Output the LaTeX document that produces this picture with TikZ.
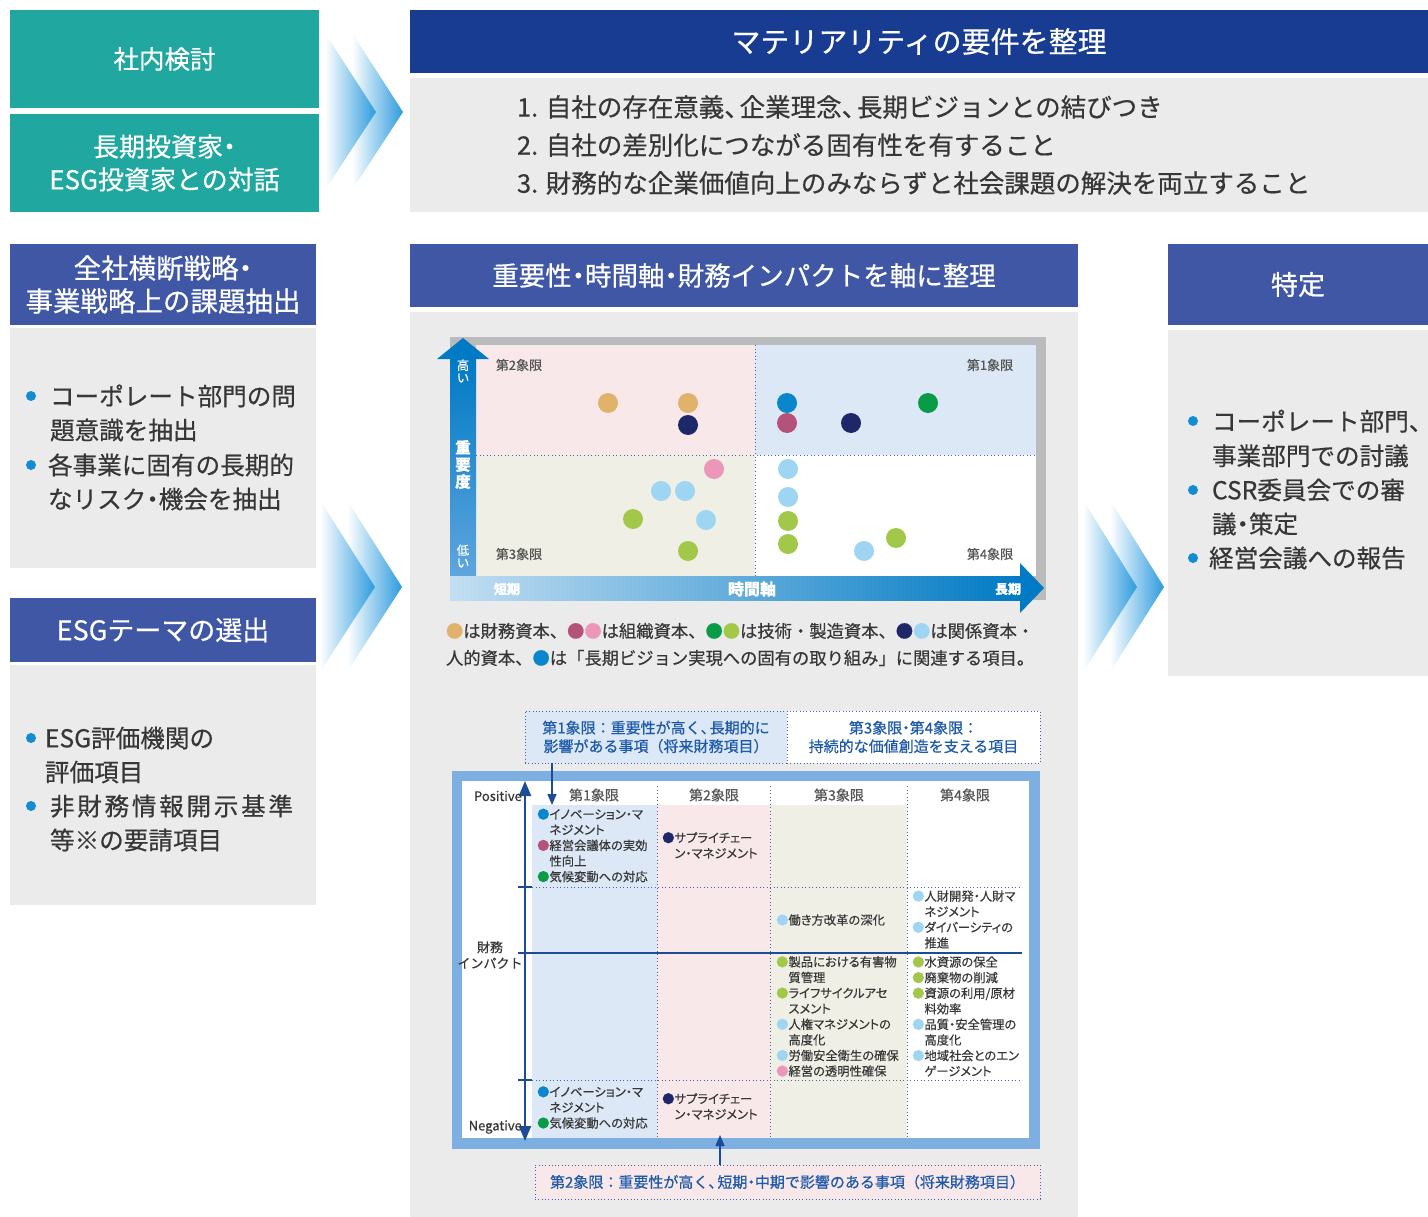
\documentclass[tikz,border=0pt]{standalone}
\usepackage{fontspec}
\setmainfont{Noto Sans CJK JP}[FakeBold=0.5]
\newfontfamily\jpp{Noto Sans CJK JP}[RawFeature=+palt,FakeBold=0.4]
\usetikzlibrary{arrows.meta}
\definecolor{teal1}{RGB}{32,168,160}
\definecolor{navyh}{RGB}{24,60,146}
\definecolor{hblue}{RGB}{63,87,165}
\definecolor{panel}{RGB}{235,235,235}
\definecolor{txt}{RGB}{55,55,55}
\definecolor{bulc}{RGB}{20,140,210}
\definecolor{chevc}{RGB}{45,155,222}
\definecolor{qpink}{RGB}{248,232,234}
\definecolor{qblue}{RGB}{220,232,245}
\definecolor{qbeige}{RGB}{239,239,230}
\definecolor{framegray}{RGB}{185,187,189}
\definecolor{axblue}{RGB}{0,122,196}
\definecolor{axmid}{RGB}{95,165,222}
\definecolor{axpale}{RGB}{195,222,242}
\definecolor{qlabc}{RGB}{85,85,85}
\definecolor{divc}{RGB}{70,100,170}
\definecolor{boxtxt}{RGB}{30,90,170}
\definecolor{tborder}{RGB}{125,175,225}
\definecolor{tax}{RGB}{30,75,150}
\definecolor{dtan}{RGB}{224,178,106}
\definecolor{dnavy}{RGB}{30,40,105}
\definecolor{dblue}{RGB}{10,134,204}
\definecolor{dgreen}{RGB}{10,155,70}
\definecolor{dmag}{RGB}{180,82,122}
\definecolor{dpink}{RGB}{236,150,186}
\definecolor{dlblue}{RGB}{158,213,242}
\definecolor{dlgreen}{RGB}{162,200,74}
\newcommand\fsz[2]{\fontsize{#1}{#2}\selectfont}
\newcommand\mybl[1]{\textcolor{#1}{●}}
\newcommand\myind{\phantom{●}}
\newcommand\ten{、\kern-0.4em}
\newcommand\naka{\kern-0.25em・\kern-0.25em}
\tikzset{
 blk/.style={inner sep=0pt, outer sep=0pt, align=center, text=white},
 pnl/.style={fill=panel, inner sep=0pt, outer sep=0pt},
 tx/.style={anchor=west, inner sep=0pt, outer sep=0pt, align=left, text=txt},
 bulletdot/.style={fill=bulc},
 qlab/.style={inner sep=0pt, text=qlabc, font=\fsz{13}{13}},
 axlab/.style={inner sep=0pt, text=white, align=center},
 qdiv/.style={draw=divc, line width=1pt, dash pattern=on 1pt off 2.6pt},
 tdot/.style={draw=divc, line width=0.9pt, dash pattern=on 0.9pt off 2.6pt},
 dbox/.style={draw=divc, line width=0.9pt, dash pattern=on 0.9pt off 2.4pt, inner sep=0pt, align=center, text=boxtxt, font=\fsz{15}{18.5}},
 item/.style={anchor=west, inner sep=0pt, align=left, text=txt, font=\jpp\fsz{12.3}{15.6}},
 colh/.style={inner sep=0pt, text=qlabc, font=\fsz{14}{14}},
 tarrow/.style={draw=tax, line width=1.5pt, -{Triangle[width=9pt,length=11pt]}},
 chevs/.style={left color=white, right color=chevc},
}
\begin{document}
\begin{tikzpicture}[x=1pt,y=-1pt]
\useasboundingbox (0,0) rectangle (1428,1217);
\fill[white] (0,0) rectangle (1428,1217);

% ---------- left column ----------
\node[blk, fill=teal1, minimum width=309pt, minimum height=98pt, font=\fsz{25.5}{32}] (naibu) at (164.5,59) {社内検討};
\node[blk, fill=teal1, minimum width=309pt, minimum height=98pt, font=\fsz{26}{33}] (taiwa) at (164.5,163) {長期投資家\naka\\ESG投資家との対話};
\node[blk, fill=hblue, minimum width=306pt, minimum height=81pt, font=\fsz{27.5}{33}] (kadai) at (163,284.5) {全社横断戦略\naka\\事業戦略上の課題抽出};
\node[pnl, minimum width=306pt, minimum height=240pt] (p1) at (163,448) {};
\node[blk, fill=hblue, minimum width=306pt, minimum height=64pt, font=\fsz{27}{27}] (esg) at (163,630) {ESGテーマの選出};
\node[pnl, minimum width=306pt, minimum height=240pt] (p2) at (163,785) {};

\fill[bulletdot] (31,396) circle[radius=5pt];
\fill[bulletdot] (31,465) circle[radius=5pt];
\fill[bulletdot] (31,738) circle[radius=5pt];
\fill[bulletdot] (31,806) circle[radius=5pt];
\node[tx, font=\fsz{24.6}{34}] (b1) at (50,413) {コーポレート部門の問\\題意識を抽出};
\node[tx, font=\fsz{24.6}{34}] (b2) at (48,482) {各事業に固有の長期的\\なリスク\naka 機会を抽出};
\node[tx, font=\fsz{24.6}{34}] (b3) at (45,755) {ESG評価機関の\\評価項目};
\node[tx, font=\fsz{24.6}{34}] (b4) at (50,823) {{\addfontfeatures{LetterSpace=11}非財務情報開示基準}\\等※の要請項目};

% ---------- top band ----------
\node[blk, fill=navyh, minimum width=1018pt, minimum height=63pt, font=\fsz{29}{29}] (thdr) at (919,41.5) {マテリアリティの要件を整理};
\node[pnl, minimum width=1018pt, minimum height=134pt] (tp) at (919,145) {};
\node[tx, font=\fsz{25.5}{25.5}] (t1) at (517,107) {1. 自社の存在意義\ten 企業理念\ten 長期ビジョンとの結びつき};
\node[tx, font=\fsz{25.5}{25.5}] (t2) at (517,145) {2. 自社の差別化につながる固有性を有すること};
\node[tx, font=\fsz{25.5}{25.5}] (t3) at (517,183) {3. 財務的な企業価値向上のみならずと社会課題の解決を両立すること};

% ---------- middle column ----------
\node[blk, fill=hblue, minimum width=668pt, minimum height=63pt, font=\fsz{26.5}{26.5}] (mhdr) at (744,275.5) {重要性\naka 時間軸\naka 財務インパクトを軸に整理};
\node[pnl, minimum width=668pt, minimum height=905pt] (mp) at (744,764.5) {};

% ---------- right column ----------
\node[blk, fill=hblue, minimum width=260pt, minimum height=81pt, font=\fsz{27}{27}] (rhdr) at (1298,284.5) {特定};
\node[pnl, minimum width=260pt, minimum height=346pt] (rp) at (1298,503) {};
\fill[bulletdot] (1193,421) circle[radius=5pt];
\fill[bulletdot] (1193,490) circle[radius=5pt];
\fill[bulletdot] (1193,558) circle[radius=5pt];
\node[tx, font=\fsz{24.6}{34.5}] (r1) at (1212,438.5) {コーポレート部門\ten\\事業部門での討議};
\node[tx, font=\fsz{24.6}{34}] (r2) at (1212,507) {CSR委員会での審\\議\naka 策定};
\node[tx, font=\fsz{24.6}{34}] (r3) at (1209,558) {経営会議への報告};

% ---------- chevrons ----------
\shade[chevs] (352,33) -- (403,112) -- (352,190) -- cycle;
\shade[chevs] (325,33) -- (376,112) -- (325,190) -- cycle;
\shade[chevs] (347,500) -- (402,587) -- (347,672) -- cycle;
\shade[chevs] (320,500) -- (375,587) -- (320,672) -- cycle;
\shade[chevs] (1110,500) -- (1164,587) -- (1110,672) -- cycle;
\shade[chevs] (1083,500) -- (1137,587) -- (1083,672) -- cycle;

% ---------- chart ----------
\fill[framegray] (450,337) rectangle (1046,600);
\fill[qpink] (476,345) rectangle (755,455);
\fill[qblue] (755,345) rectangle (1036,455);
\fill[qbeige] (476,455) rectangle (755,576);
\fill[white] (755,455) rectangle (1036,576);
\draw[qdiv] (755,345) -- (755,576);
\draw[qdiv] (476,455) -- (1036,455);
\shade[top color=axblue, middle color=axblue, bottom color=axmid] (450,358) rectangle (476,576);
\fill[axblue] (437,359) -- (463,338) -- (489,359) -- cycle;
\shade[left color=axpale, middle color=axblue, right color=axblue] (450,576) rectangle (1022,600);
\fill[axblue] (1020,563) -- (1044,588) -- (1020,613) -- cycle;

\node[axlab, font=\fsz{12.5}{12.5}] (hi) at (463,371) {高\\い};
\node[axlab, font=\bfseries\fsz{15.5}{17}] (juyodo) at (463,464.5) {重\\要\\度};
\node[axlab, font=\fsz{12.5}{12.5}] (lo) at (463,556) {低\\い};
\node[axlab, font=\bfseries\fsz{13}{13}] (tanki) at (507,589) {短期};
\node[axlab, font=\bfseries\fsz{16}{16}] (jikan) at (752,589) {時間軸};
\node[axlab, font=\bfseries\fsz{13}{13}] (choki) at (1008,589) {長期};

\node[qlab] (q2) at (519,365) {第2象限};
\node[qlab] (q1) at (990,365) {第1象限};
\node[qlab] (q3) at (519,554) {第3象限};
\node[qlab] (q4) at (990,554) {第4象限};

\fill[dtan] (608,403) circle[radius=10pt];
\fill[dtan] (688,403) circle[radius=10pt];
\fill[dnavy] (688,425) circle[radius=10pt];
\fill[dblue] (787,403) circle[radius=10pt];
\fill[dmag] (787,423) circle[radius=10pt];
\fill[dnavy] (851,423) circle[radius=10pt];
\fill[dgreen] (928,403) circle[radius=10pt];
\fill[dpink] (714,469) circle[radius=10pt];
\fill[dlblue] (661,491) circle[radius=10pt];
\fill[dlblue] (685,491) circle[radius=10pt];
\fill[dlgreen] (633,519) circle[radius=10pt];
\fill[dlblue] (706,520) circle[radius=10pt];
\fill[dlgreen] (688,551) circle[radius=10pt];
\fill[dlblue] (788,469) circle[radius=10pt];
\fill[dlblue] (788,497) circle[radius=10pt];
\fill[dlgreen] (788,521) circle[radius=10pt];
\fill[dlgreen] (788,544) circle[radius=10pt];
\fill[dlgreen] (896,538) circle[radius=10pt];
\fill[dlblue] (864,551) circle[radius=10pt];

\node[tx, font=\fsz{17.3}{27}] (legend) at (446,644.5) {\mybl{dtan}は財務資本、\mybl{dmag}\mybl{dpink}は組織資本、\mybl{dgreen}\mybl{dlgreen}は技術・製造資本、\mybl{dnavy}\mybl{dlblue}は関係資本・\\人的資本、\mybl{dblue}は「長期ビジョン実現への固有の取り組み」に関連する項目。};

% ---------- quadrant explanation boxes ----------
\node[dbox, fill=qblue, minimum width=262pt, minimum height=52pt] (box1) at (656,737) {第1象限：重要性が高く\ten 長期的に\\影響がある事項（将来財務項目）};
\node[dbox, fill=white, minimum width=253pt, minimum height=52pt] (box2) at (913.5,737) {第3象限\naka 第4象限：\\持続的な価値創造を支える項目};
\node[dbox, fill=qpink, minimum width=505pt, minimum height=34pt, font=\fsz{15}{15}] (box3) at (787.5,1182) {第2象限：重要性が高く\ten 短期\naka 中期で影響のある事項（将来財務項目）};

% ---------- table ----------
\node[inner sep=0pt, fill=tborder, minimum width=588pt, minimum height=378pt] (tframe) at (746,960) {};
\node[inner sep=0pt, fill=white, minimum width=567pt, minimum height=357pt] (tin) at (745.5,959.5) {};
\fill[qblue] (532,805) rectangle (657,1138);
\fill[qpink] (657,805) rectangle (770,1138);
\fill[qbeige] (770,805) rectangle (907,1138);
\draw[tdot] (657,786) -- (657,1137);
\draw[tdot] (770,786) -- (770,1137);
\draw[tdot] (907,786) -- (907,1137);
\draw[tdot] (532,887) -- (1022,887);
\draw[tdot] (532,1080) -- (1022,1080);
\draw[tax, line width=2pt] (518,887) -- (532,887);
\draw[tax, line width=2pt] (518,1080) -- (532,1080);
\draw[tax, line width=1.6pt] (518,953) -- (1022,953);
\coordinate (axT) at (525,781);
\coordinate (axB) at (525,1141);
\draw[tax, line width=2.2pt, {Triangle[width=12pt,length=15pt]}-{Triangle[width=12pt,length=15pt]}] (axT) -- (axB);

\node[colh] (h1) at (594,795) {第1象限};
\node[colh] (h2) at (714,795) {第2象限};
\node[colh] (h3) at (839,795) {第3象限};
\node[colh] (h4) at (965,795) {第4象限};
\node[inner sep=0pt, anchor=east, text=txt, font=\fsz{13}{13}] (pos) at (522,796) {Positive};
\node[inner sep=0pt, anchor=east, text=txt, font=\fsz{13}{13}] (neg) at (522,1127) {Negative};
\node[inner sep=0pt, align=center, text=txt, font=\fsz{13}{16}] (zaimu) at (490,955) {財務\\インパクト};

\node[item] (c1a) at (537,845.5) {\mybl{dblue}イノベーション・マ\\\myind ネジメント\\\mybl{dmag}経営会議体の実効\\\myind 性向上\\\mybl{dgreen}気候変動への対応};
\node[item] (c2a) at (662,845.5) {\mybl{dnavy}サプライチェー\\\myind ン・マネジメント};
\node[item] (c3a) at (776,920) {\mybl{dlblue}働き方改革の深化};
\node[item] (c4a) at (912,919.5) {\mybl{dlblue}人財開発・人財マ\\\myind ネジメント\\\mybl{dlblue}ダイバーシティの\\\myind 推進};
\node[item] (c3b) at (776,1016.5) {\mybl{dlgreen}製品における有害物\\\myind 質管理\\\mybl{dlgreen}ライフサイクルアセ\\\myind スメント\\\mybl{dlblue}人権マネジメントの\\\myind 高度化\\\mybl{dlblue}労働安全衛生の確保\\\mybl{dpink}経営の透明性確保};
\node[item] (c4b) at (912,1016.5) {\mybl{dlgreen}水資源の保全\\\mybl{dlgreen}廃棄物の削減\\\mybl{dlgreen}資源の利用/原材\\\myind 料効率\\\mybl{dlblue}品質・安全管理の\\\myind 高度化\\\mybl{dlblue}地域社会とのエン\\\myind ゲージメント};
\node[item] (c1b) at (537,1107.5) {\mybl{dblue}イノベーション・マ\\\myind ネジメント\\\mybl{dgreen}気候変動への対応};
\node[item] (c2b) at (662,1106.5) {\mybl{dnavy}サプライチェー\\\myind ン・マネジメント};

\coordinate (dnTip) at (552,805);
\coordinate (upTip) at (720,1135);
\draw[tarrow] (box1.south -| dnTip) -- (dnTip);
\draw[tarrow] (box3.north -| upTip) -- (upTip);
\end{tikzpicture}
\end{document}
